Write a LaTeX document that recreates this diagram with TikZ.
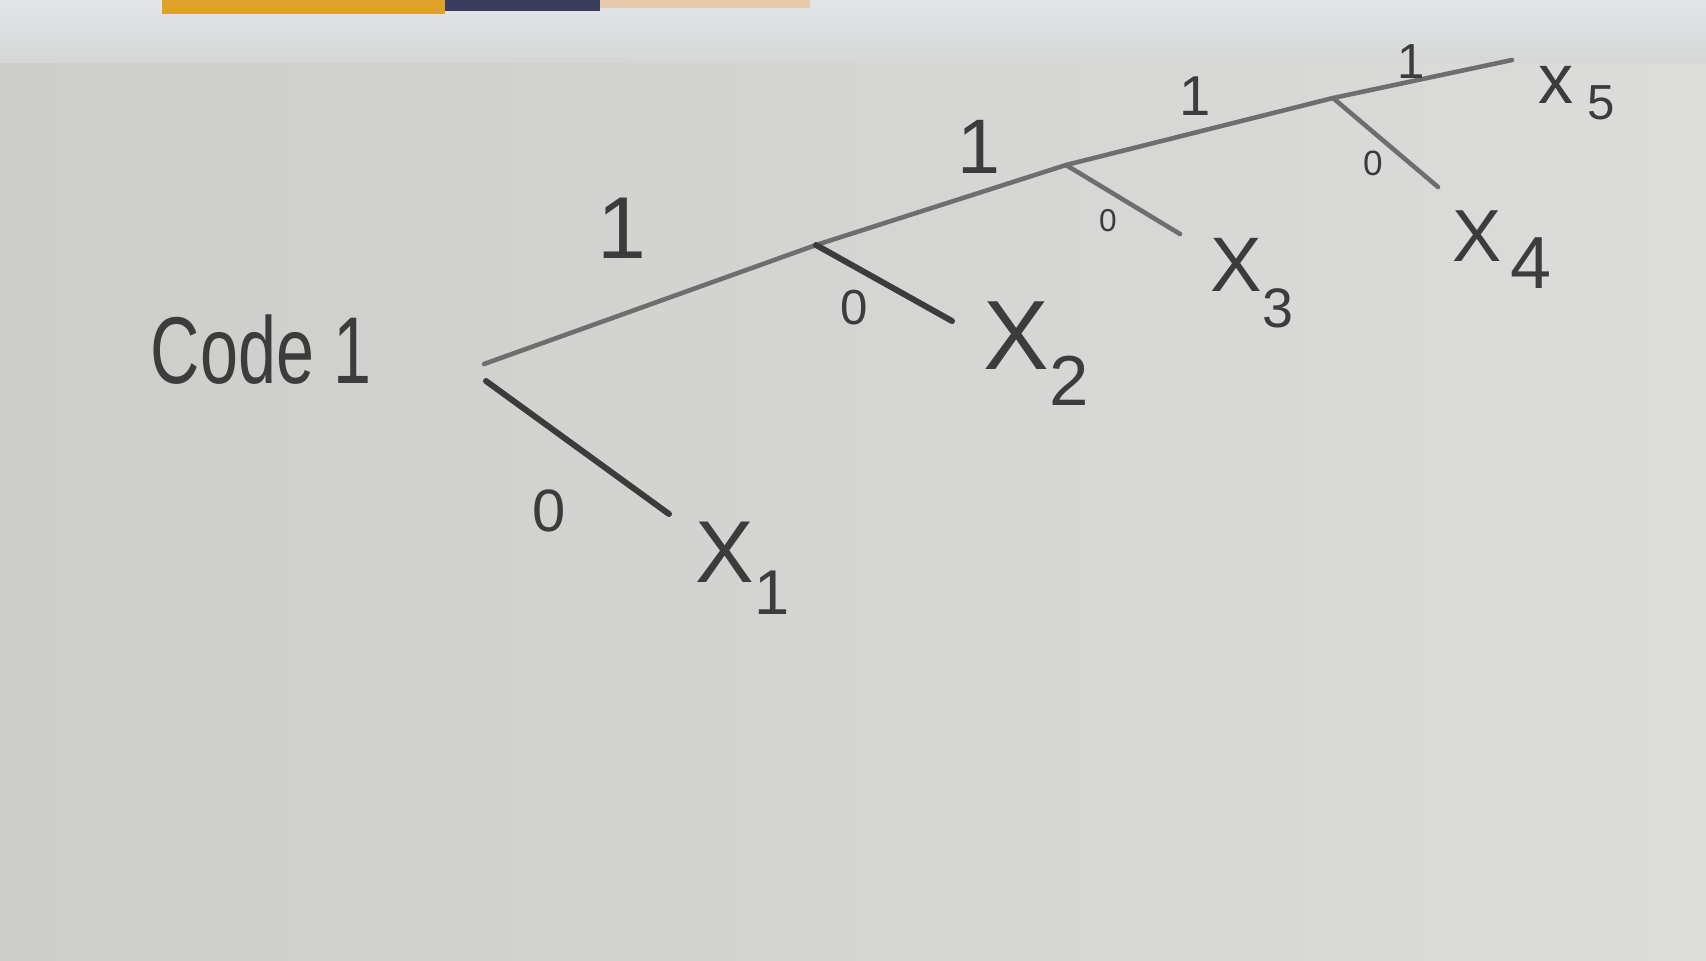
\documentclass[tikz,border=0pt]{standalone}
\usepackage{fontspec}
\setmainfont{Liberation Sans}
\definecolor{bgL}{HTML}{CDCECA}
\definecolor{bgR}{HTML}{DCDDDB}
\definecolor{topband}{HTML}{E2E5E8}
\definecolor{ink}{HTML}{3C3C3C}
\definecolor{inkl}{HTML}{6E6E6E}
\definecolor{stripO}{HTML}{E0A12A}
\definecolor{stripB}{HTML}{3A3E5C}
\definecolor{stripP}{HTML}{E6C9A8}
\newcommand{\lowd}[2]{\raisebox{#1}{\scalebox{0.72}{#2}}}
\begin{document}
\begin{tikzpicture}[x=1cm,y=-1cm,
  branch/.style={draw=inkl,line width=1.3pt,line cap=round},
  zbranch/.style={draw=ink,line width=1.7pt,line cap=round},
  lab/.style={text=ink,inner sep=0pt},
]
\useasboundingbox (0,0) rectangle (17.06,9.60);
\shade[left color=bgL,right color=bgR] (0,0.55) rectangle (17.06,9.60);
\shade[top color=topband,bottom color=bgL!60!topband] (0,0) rectangle (17.06,0.62);
\fill[stripO] (1.62,0) rectangle (4.45,0.14);
\fill[stripB] (4.45,0) rectangle (6.00,0.11);
\fill[stripP] (6.00,0) rectangle (8.10,0.08);
% tree
\coordinate (r) at (4.84,3.64);
\coordinate (r0) at (4.86,3.81);
\coordinate (e1) at (6.69,5.14);
\coordinate (b2) at (8.16,2.45);
\coordinate (e2) at (9.52,3.21);
\coordinate (b3) at (10.66,1.65);
\coordinate (e3) at (11.80,2.34);
\coordinate (b4) at (13.33,0.98);
\coordinate (e4) at (14.38,1.87);
\coordinate (e5) at (15.12,0.60);
\draw[branch] (r) -- (b2) -- (b3) -- (b4) -- (e5);
\draw[zbranch] (r0) -- (e1);
\draw[zbranch] (b2) -- (e2);
\draw[branch] (b3) -- (e3);
\draw[branch] (b4) -- (e4);
% labels
\node[lab,font=\fontsize{27}{27}\selectfont] (code) at (2.61,3.50) {\scalebox{0.72}[1]{Code 1}};
\node[lab,font=\fontsize{25}{25}\selectfont] (one1) at (6.22,2.28) {1};
\node[lab,font=\fontsize{17}{17}\selectfont] (zero1) at (5.49,5.11) {0};
\node[lab,font=\fontsize{25}{25}\selectfont,anchor=base west] (x1) at (6.95,5.82) {X\lowd{-0.7ex}{1}};
\node[lab,font=\fontsize{22}{22}\selectfont] (one2) at (9.79,1.47) {1};
\node[lab,font=\fontsize{14}{14}\selectfont] (zero2) at (8.54,3.08) {0};
\node[lab,font=\fontsize{28}{28}\selectfont,anchor=base west] (x2) at (9.83,3.69) {X\lowd{-0.7ex}{2}};
\node[lab,font=\fontsize{16}{16}\selectfont] (one3) at (11.95,0.96) {1};
\node[lab,font=\fontsize{9}{9}\selectfont] (zero3) at (11.08,2.21) {0};
\node[lab,font=\fontsize{22}{22}\selectfont,anchor=base west] (x3) at (12.10,2.91) {X\lowd{-0.9ex}{3}};
\node[lab,font=\fontsize{14}{14}\selectfont] (one4) at (14.11,0.62) {1};
\node[lab,font=\fontsize{10}{10}\selectfont] (zero4) at (13.73,1.63) {0};
\node[lab,font=\fontsize{21}{21}\selectfont,anchor=base west] (x4) at (14.52,2.61) {X\hspace{0.12em}\raisebox{-0.7ex}{4}};
\node[lab,font=\fontsize{20}{20}\selectfont,anchor=base west] (x5) at (15.38,1.03) {x\hspace{0.2em}\raisebox{-0.45ex}{\scalebox{0.7}{5}}};
\end{tikzpicture}
\end{document}
